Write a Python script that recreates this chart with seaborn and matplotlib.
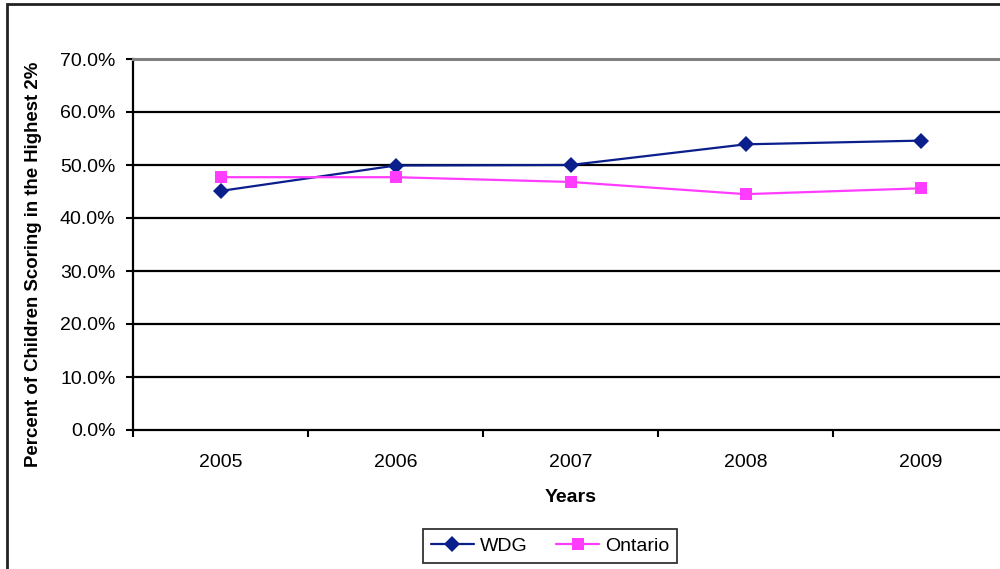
import matplotlib
matplotlib.use("Agg")
import matplotlib.pyplot as plt
from matplotlib.patches import Rectangle
from matplotlib.ticker import FixedLocator, FuncFormatter
import seaborn as sns
import pandas as pd

years = ["2005", "2006", "2007", "2008", "2009"]
wdg = [45.1, 49.9, 50.0, 53.9, 54.6]
ontario = [47.7, 47.7, 46.8, 44.5, 45.6]

df = pd.DataFrame({
    "Year": years * 2,
    "Percent": wdg + ontario,
    "Region": ["WDG"] * len(years) + ["Ontario"] * len(years),
})

sns.set_theme(style="white")
plt.rcParams["font.family"] = ["Liberation Sans", "DejaVu Sans"]
plt.rcParams["text.color"] = "black"
plt.rcParams["axes.labelcolor"] = "black"
plt.rcParams["xtick.color"] = "black"
plt.rcParams["ytick.color"] = "black"

fig = plt.figure(figsize=(10, 5.69), dpi=100)
W, H = 1000, 569
ax = fig.add_axes([133 / W, 1 - 430 / H, 875 / W, 371 / H])

palette = {"WDG": "#0A1E8C", "Ontario": "#FF3CFF"}
markers = {"WDG": "D", "Ontario": "s"}
for region in ["WDG", "Ontario"]:
    sub = df[df["Region"] == region]
    sns.lineplot(data=sub, x="Year", y="Percent", ax=ax, color=palette[region],
                 marker=markers[region], markersize=8 if region == "WDG" else 9,
                 markeredgewidth=0, linewidth=1.6, label=region, zorder=3)

ax.set_xlim(-0.5, 4.5)
ax.set_ylim(0, 70)
ax.yaxis.set_major_locator(FixedLocator([0, 10, 20, 30, 40, 50, 60, 70]))
ax.yaxis.set_major_formatter(FuncFormatter(lambda v, p: f"{v:.1f}%"))
ax.set_xticks(range(len(years)))
ax.set_xticklabels(years)
ax.tick_params(axis="x", length=0, pad=17, labelsize=14, labelcolor="black")
ax.tick_params(axis="y", length=5, width=1.5, color="black", direction="out",
               left=True, pad=7.6, labelsize=14, labelcolor="black")
# category boundary ticks along the x axis
ax.set_xticks([i - 0.5 for i in range(len(years) + 1)], minor=True)
ax.tick_params(axis="x", which="minor", length=5, width=1.5, color="black",
               direction="out", bottom=True)

for v in [10, 20, 30, 40, 50, 60]:
    ax.axhline(v, color="black", linewidth=1.6, zorder=1)

ax.spines["right"].set_visible(False)
ax.spines["top"].set_color("#808080")
ax.spines["top"].set_linewidth(2.2)
for side in ["left", "bottom"]:
    ax.spines[side].set_color("black")
    ax.spines[side].set_linewidth(1.6)

ax.set_xlabel("Years", fontsize=14, fontweight="bold", color="black")
ax.xaxis.set_label_coords(0.5, -(497 - 430) / 371)
ax.xaxis.label.set_verticalalignment("center")
ax.set_ylabel("Percent of Children Scoring in the Highest 2%", fontsize=13.4,
              fontweight="bold", color="black")
ax.yaxis.set_label_coords(-(133 - 34) / 875, (430 - 264) / 371)
ax.yaxis.label.set_verticalalignment("center")

ax.get_legend().remove()
handles, labels = ax.get_legend_handles_labels()
leg = fig.legend(handles, labels, loc="center", bbox_to_anchor=(550 / W, 1 - 546 / H),
                 ncol=2, fontsize=14, frameon=True, fancybox=False, edgecolor="black",
                 handlelength=2.2, handletextpad=0.3, columnspacing=1.5,
                 borderpad=0.4, borderaxespad=0)
leg.get_frame().set_linewidth(1.3)
for t in leg.get_texts():
    t.set_color("black")

# outer chart border
fig.patches.append(Rectangle((7 / W, -0.1), 1.2, 1 - 4 / H + 0.1, transform=fig.transFigure,
                             fill=False, edgecolor="#222222", linewidth=2))

fig.savefig("out.png", dpi=100)
